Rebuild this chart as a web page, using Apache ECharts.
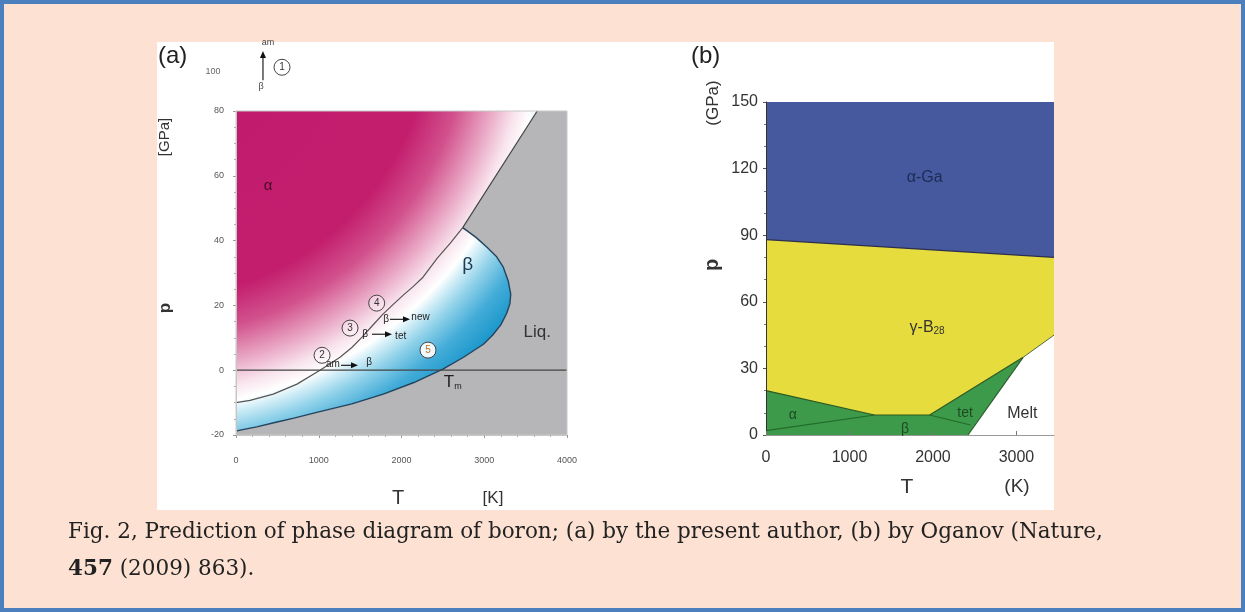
<!DOCTYPE html>
<html><head><meta charset="utf-8">
<script src="https://cdn.jsdelivr.net/npm/echarts@6/dist/echarts.min.js"></script>
<style>
html,body{margin:0;padding:0;width:1245px;height:612px;overflow:hidden;background:#fde2d3;}
#frame{position:absolute;left:0;top:0;width:1245px;height:612px;box-sizing:border-box;border:4px solid #4b7fbd;background:#fde2d3;}
#panel{position:absolute;left:157px;top:42px;width:897px;height:468px;background:#fff;}
#chart{position:absolute;left:0;top:0;width:1245px;height:612px;}
.cap{position:absolute;left:68px;font-family:"DejaVu Serif",serif;font-size:21.5px;color:#222;white-space:nowrap;line-height:26px;}
</style></head><body>
<div id="frame"></div>
<div id="panel"></div>
<div id="chart"></div>
<div class="cap" style="top:518px;">Fig. 2, Prediction of phase diagram of boron; (a) by the present author, (b) by Oganov (Nature,</div>
<div class="cap" style="top:555px;"><b>457</b> (2009) 863).</div>
<script>
// ---------- Panel (a): present author ----------
const aTTicks = [0, 1000, 2000, 3000, 4000];
const aPTicks = [-20, 0, 20, 40, 60, 80];
const aAlphaBeta = [[0,-10],[170,-9.3],[450,-7.4],[737,-4.3],[1015,0],[1257,4],[1400,7],[1523,10.2],[1650,13.8],[1776,17.3],[1900,20.3],[2018,23.1],[2140,25.8],[2260,28.7],[2430,34.5],[2590,39.2],[2740,44]];
const aBetaLiq = [[2740,44],[2900,41],[3030,38],[3150,35],[3230,31.8],[3290,27.5],[3320,23.5],[3310,20.5],[3270,17.5],[3200,14],[3100,10.8],[2990,8],[2750,4],[2500,0.3],[2150,-3.8],[1780,-7.4],[1400,-10.4],[975,-13],[700,-14.8],[495,-16],[250,-17.5],[50,-18.5],[0,-18.8]];
const aAlphaLiq = [[2740,44],[3640,80]];
const aZeroLine = [[0,0],[4000,0]];
const aCircles = [[556,93.5,'1'],[1040,4.6,'2'],[1378,13,'3'],[1700,20.7,'4'],[2320,6.2,'5']];
const aArrows = [[[326,89.5],[326,98.5]],[[1861,15.7],[2103,15.7]],[[1643,11.1],[1885,11.1]],[[1269,1.5],[1474,1.5]]];
const aText = [
  [387,57,'α','alpha'],[2800,32.4,'β','beta'],[3640,11.7,'Liq.','liq'],[2620,-3.7,'{t|T}{s|m}','tm'],
  [1813,15.7,'β','small'],[2230,16.2,'new','small'],[1559,11.1,'β','small'],[1990,10.6,'tet','small'],
  [1172,1.9,'am','small'],[1610,2.6,'β','small'],
  [387,101,'am','tiny'],[302,87.7,'β','tiny'],[-278,92.3,'100','tick']
];
// ---------- Panel (b): Oganov ----------
const bTTicks = [0, 1000, 2000, 3000];
const bTMax = 3450;
const bPTicks = [0, 30, 60, 90, 120, 150];
const bAlphaGaTop = [[0,88],[3450,80]];
const bGammaBottom = [[0,20],[1300,9],[1960,9],[3080,35],[3450,45]];
const bMelt = [[2420,0],[3080,35]];
const bAlphaBeta = [[0,2],[1300,9]];
const bBetaTet = [[1960,9],[2450,4.5]];
const bText = [
  [1900,116,'α-Ga','phase'],[1930,48.6,'{a|γ-B}{s|28}','gamma'],[320,9,'α','green'],
  [1665,2.5,'β','green'],[2385,10,'tet','green'],[3070,9.5,'Melt','melt']
];

const SANS = 'Liberation Sans, Arial, sans-serif';
const TS = {
  alpha:{fontSize:15, fontFamily:SANS, fill:'#4b0c2c'},
  beta:{fontSize:19, fontFamily:SANS, fill:'#1b3b58'},
  liq:{fontSize:17, fontFamily:SANS, fill:'#333'},
  tm:{fontSize:16, fontFamily:SANS, fill:'#222', rich:{t:{fontSize:17, fontFamily:SANS, fill:'#222'}, s:{fontSize:9, fontFamily:SANS, fill:'#222', verticalAlign:'bottom', padding:[8,0,0,0]}}},
  small:{fontSize:10, fontFamily:SANS, fill:'#222'},
  tiny:{fontSize:9, fontFamily:SANS, fill:'#444'},
  tick:{fontSize:9, fontFamily:SANS, fill:'#666'},
  phase:{fontSize:16, fontFamily:SANS, fill:'#1d2b55'},
  gamma:{fontSize:16, fontFamily:SANS, fill:'#333', rich:{a:{fontSize:16, fontFamily:SANS, fill:'#333'}, s:{fontSize:10, fontFamily:SANS, fill:'#333', padding:[9,0,0,0]}}},
  green:{fontSize:14, fontFamily:SANS, fill:'#1e4a22'},
  melt:{fontSize:16, fontFamily:SANS, fill:'#333'}
};

function pinkBlue(api){
  const c = api.coord([-1040,109]);
  const e = api.coord([1015,0]);
  const R = Math.hypot(e[0]-c[0], e[1]-c[1]) * 1.2;
  return new echarts.graphic.RadialGradient(c[0], c[1], R, [
    {offset:0, color:'#bd186b'},{offset:0.6, color:'#c31e6e'},{offset:0.68, color:'#d2528d'},
    {offset:0.75, color:'#e9a6c4'},{offset:0.8, color:'#f8e3ec'},{offset:0.835, color:'#ffffff'},
    {offset:0.855, color:'#d2eef7'},{offset:0.89, color:'#8fd1e9'},{offset:0.94, color:'#43acd8'},{offset:1, color:'#1795ca'}
  ], true);
}

function poly(gi, pts, fill, z, stroke){
  return {type:'custom', coordinateSystem:'cartesian2d', xAxisIndex:gi, yAxisIndex:gi, clip:false, silent:true, z:z,
    data:[[pts[0][0], pts[0][1]]],
    renderItem:(params, api)=>({type:'polygon', shape:{points:pts.map(p=>api.coord(p))},
      style:{fill: typeof fill==='function' ? fill(api) : fill, stroke: stroke||null, lineWidth: stroke?1:0}})};
}
function line(gi, pts, color, width, z){
  return {type:'line', xAxisIndex:gi, yAxisIndex:gi, data:pts, showSymbol:false, symbol:'none', silent:true, z:z||5,
    lineStyle:{color:color, width:width}, clip:false, animation:false};
}
function texts(gi, items){
  return {type:'custom', coordinateSystem:'cartesian2d', xAxisIndex:gi, yAxisIndex:gi, clip:false, silent:true, z:20,
    data:items.map((d,i)=>[d[0],d[1],i]),
    renderItem:(params, api)=>{
      const d = items[params.dataIndex]; const p = api.coord([d[0],d[1]]);
      return {type:'text', x:p[0], y:p[1], style:Object.assign({text:d[2], align:'center', verticalAlign:'middle'}, TS[d[3]])};
    }};
}
function circles(gi, items){
  return {type:'custom', coordinateSystem:'cartesian2d', xAxisIndex:gi, yAxisIndex:gi, clip:false, silent:true, z:20,
    data:items.map((d,i)=>[d[0],d[1],i]),
    renderItem:(params, api)=>{
      const d = items[params.dataIndex]; const p = api.coord([d[0],d[1]]);
      const five = d[2]==='5';
      return {type:'group', children:[
        {type:'circle', shape:{cx:p[0], cy:p[1], r:8}, style:{fill: five ? 'rgba(255,255,255,0.9)' : 'rgba(255,255,255,0.35)', stroke:'#444', lineWidth:1}},
        {type:'text', x:p[0], y:p[1], style:{text:d[2], align:'center', verticalAlign:'middle', fontSize:10, fontFamily:SANS, fill: five ? '#c0702a' : '#333'}}
      ]};
    }};
}
function arrows(gi, items){
  return {type:'custom', coordinateSystem:'cartesian2d', xAxisIndex:gi, yAxisIndex:gi, clip:false, silent:true, z:20,
    data:items.map((d,i)=>[d[0][0],d[0][1],i]),
    renderItem:(params, api)=>{
      const d = items[params.dataIndex]; const a = api.coord(d[0]), b = api.coord(d[1]);
      const ang = Math.atan2(b[1]-a[1], b[0]-a[0]); const L = 7, W = 3;
      const bx = b[0]-L*Math.cos(ang), by = b[1]-L*Math.sin(ang);
      return {type:'group', children:[
        {type:'line', shape:{x1:a[0], y1:a[1], x2:bx, y2:by}, style:{stroke:'#222', lineWidth:1.2}},
        {type:'polygon', shape:{points:[b,[bx-W*Math.sin(ang), by+W*Math.cos(ang)],[bx+W*Math.sin(ang), by-W*Math.cos(ang)]]}, style:{fill:'#111'}}
      ]};
    }};
}
function frame(gi, x0, x1, y0, y1, color){
  return {type:'custom', coordinateSystem:'cartesian2d', xAxisIndex:gi, yAxisIndex:gi, clip:false, silent:true, z:15,
    data:[[x0,y0]],
    renderItem:(params, api)=>{
      const a = api.coord([x0,y1]), b = api.coord([x1,y0]);
      return {type:'rect', shape:{x:a[0], y:a[1], width:b[0]-a[0], height:b[1]-a[1]}, style:{fill:null, stroke:color, lineWidth:1}};
    }};
}

// polygons for (a)
const aMax = aPTicks[aPTicks.length-1], aMin = aPTicks[0], aTMax = aTTicks[aTTicks.length-1];
const aSolid = [[0,aMax],aAlphaLiq[1]].concat(aBetaLiq);
const aLiquid = [aAlphaLiq[1],[aTMax,aMax],[aTMax,aMin],[0,aMin]].concat(aBetaLiq.slice().reverse());
// polygons for (b)
const bPMax = bPTicks[bPTicks.length-1];
const bBlue = [[0,bPMax],[bTMax,bPMax]].concat(bAlphaGaTop.slice().reverse());
const bYellow = bAlphaGaTop.concat(bGammaBottom.slice().reverse());
const bGreen = [[0,0]].concat(bGammaBottom.slice(0,4)).concat([bMelt[0]]);
const bWhite = [bMelt[0], bGammaBottom[3], bGammaBottom[4], [bTMax,0]];

const plain = v => String(v);
const chart = echarts.init(document.getElementById('chart'), null, {renderer:'canvas'});
const axBase = {type:'value', splitLine:{show:false}, z:12};
chart.setOption({
  animation:false,
  backgroundColor:'transparent',
  grid:[{left:236, top:111, width:331, height:324, show:false},
        {left:766, top:102, width:288, height:333, show:false}],
  xAxis:[
    Object.assign({}, axBase, {gridIndex:0, min:aTTicks[0], max:aTMax, interval:aTTicks[1]-aTTicks[0],
      axisLine:{show:true, onZero:false, lineStyle:{color:'#c4c4c4'}}, axisTick:{show:true, length:3, lineStyle:{color:'#999'}},
      minorTick:{show:true, splitNumber:5, length:2, lineStyle:{color:'#aaa'}},
      axisLabel:{fontSize:9, color:'#555', margin:21, fontFamily:SANS, formatter:plain}}),
    Object.assign({}, axBase, {gridIndex:1, min:bTTicks[0], max:bTMax, interval:bTTicks[1]-bTTicks[0],
      axisLine:{show:true, onZero:false, lineStyle:{color:'#999'}}, axisTick:{show:true, inside:true, length:4, lineStyle:{color:'#777'}},
      axisLabel:{fontSize:16, color:'#333', margin:15, fontFamily:SANS, showMaxLabel:false, formatter:plain}})
  ],
  yAxis:[
    Object.assign({}, axBase, {gridIndex:0, min:aMin, max:aMax, interval:aPTicks[1]-aPTicks[0],
      axisLine:{show:true, onZero:false, lineStyle:{color:'#c4c4c4'}}, axisTick:{show:true, length:3, lineStyle:{color:'#999'}},
      minorTick:{show:true, splitNumber:4, length:2, lineStyle:{color:'#aaa'}},
      axisLabel:{fontSize:9, color:'#555', margin:12, fontFamily:SANS, formatter:plain}}),
    Object.assign({}, axBase, {gridIndex:1, min:bPTicks[0], max:bPMax, interval:bPTicks[1]-bPTicks[0],
      axisLine:{show:true, onZero:false, lineStyle:{color:'#333'}}, axisTick:{show:true, length:3, lineStyle:{color:'#555'}},
      minorTick:{show:true, splitNumber:3, length:2, lineStyle:{color:'#777'}},
      axisLabel:{fontSize:16, color:'#333', margin:8, fontFamily:SANS, formatter:plain}})
  ],
  series:[
    poly(0, aSolid, pinkBlue, 1),
    poly(0, aLiquid, '#b6b6b9', 2),
    line(0, aAlphaBeta, '#555', 1.2),
    line(0, aAlphaLiq, '#444', 1.2),
    line(0, aBetaLiq, '#22435e', 1.4),
    line(0, aZeroLine, '#444', 1.2),
    frame(0, aTTicks[0], aTMax, aMin, aMax, '#c8c8c8'),
    circles(0, aCircles),
    arrows(0, aArrows),
    texts(0, aText),
    poly(1, bBlue, '#46599f', 1),
    poly(1, bYellow, '#e7dc3e', 1),
    poly(1, bGreen, '#3c9a4a', 1),
    poly(1, bWhite, '#ffffff', 1),
    line(1, bAlphaGaTop, '#2b2f4a', 1.2),
    line(1, bGammaBottom.slice(0,4), '#2f5a1e', 1.2),
    line(1, bGammaBottom.slice(3), '#4e6a2a', 1),
    line(1, bMelt, '#2a5a2a', 1.2),
    line(1, bAlphaBeta, '#236a2c', 1.2),
    line(1, bBetaTet, '#236a2c', 1.2),
    texts(1, bText)
  ],
  graphic:[
    {type:'text', left:158, top:44, style:{text:'(a)', fontSize:24, fontFamily:SANS, fill:'#222'}},
    {type:'text', x:165, y:137, rotation:Math.PI/2, style:{text:'[GPa]', fontSize:15, fontFamily:SANS, fill:'#333', align:'center', verticalAlign:'middle'}},
    {type:'text', x:165, y:308, rotation:Math.PI/2, style:{text:'p', fontSize:17, fontWeight:'bold', fontFamily:SANS, fill:'#333', align:'center', verticalAlign:'middle'}},
    {type:'text', x:398, y:498, style:{text:'T', fontSize:20, fontFamily:SANS, fill:'#333', align:'center', verticalAlign:'middle'}},
    {type:'text', x:493, y:498, style:{text:'[K]', fontSize:17, fontFamily:SANS, fill:'#333', align:'center', verticalAlign:'middle'}},
    {type:'text', left:691, top:44, style:{text:'(b)', fontSize:24, fontFamily:SANS, fill:'#222'}},
    {type:'text', x:713, y:103, rotation:Math.PI/2, style:{text:'(GPa)', fontSize:17, fontFamily:SANS, fill:'#333', align:'center', verticalAlign:'middle'}},
    {type:'text', x:712, y:265, rotation:Math.PI/2, style:{text:'p', fontSize:20, fontWeight:'bold', fontFamily:SANS, fill:'#333', align:'center', verticalAlign:'middle'}},
    {type:'text', x:907, y:487, style:{text:'T', fontSize:21, fontFamily:SANS, fill:'#333', align:'center', verticalAlign:'middle'}},
    {type:'text', x:1017, y:487, style:{text:'(K)', fontSize:19, fontFamily:SANS, fill:'#333', align:'center', verticalAlign:'middle'}}
  ]
});
</script>
</body></html>
